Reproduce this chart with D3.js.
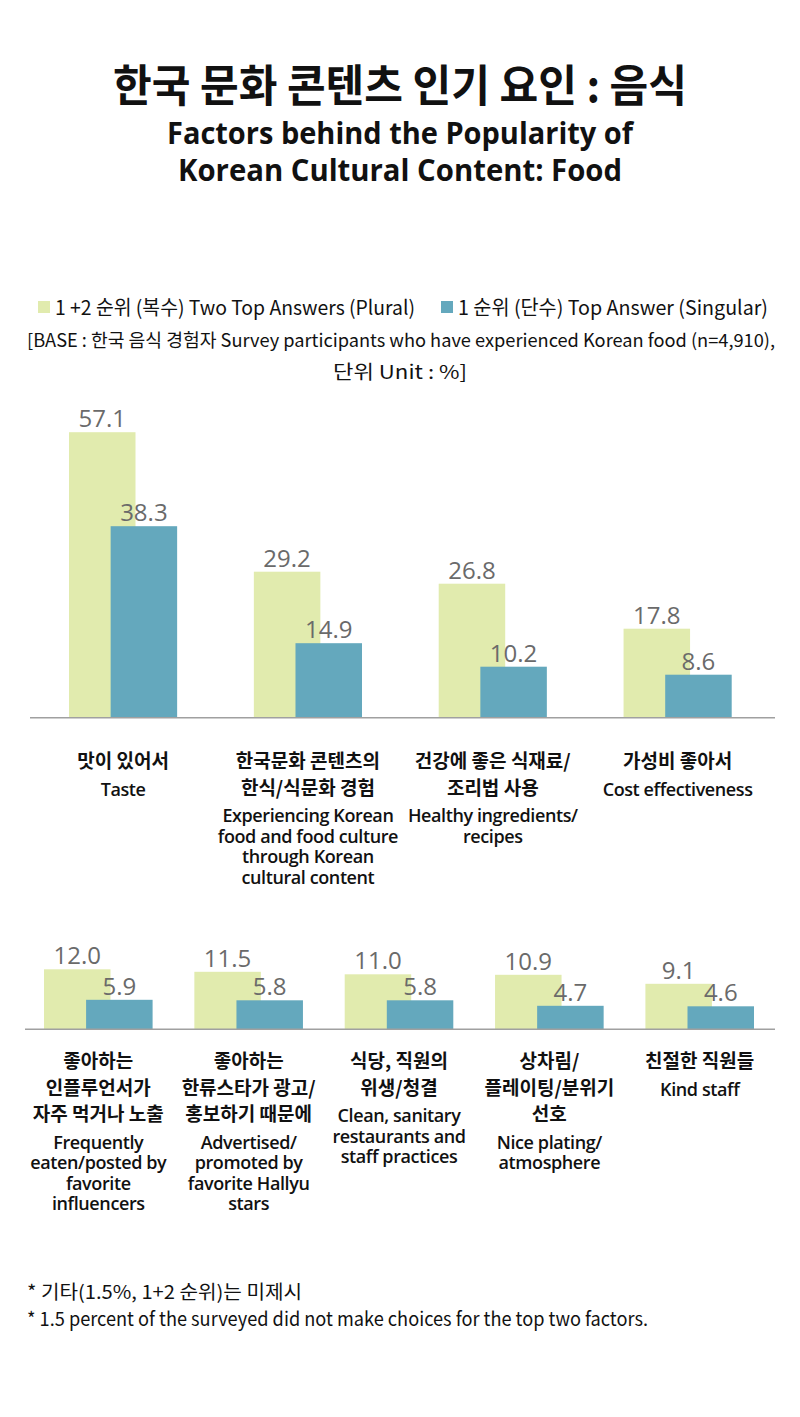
<!DOCTYPE html>
<html><head><meta charset="utf-8">
<script src="https://cdn.jsdelivr.net/npm/d3@7"></script>
<style>
html,body{margin:0;padding:0;background:#fff;}
svg{display:block;}
</style></head>
<body>
<svg id="chart" width="800" height="1417"></svg>
<script>
// ---------- DATA ----------
const seriesNames = ["1 +2 순위 (복수) Two Top Answers (Plural)", "1 순위 (단수) Top Answer (Singular)"];

const topKo = [["맛이 있어서"], ["한국문화 콘텐츠의", "한식/식문화 경험"], ["건강에 좋은 식재료/", "조리법 사용"], ["가성비 좋아서"]];
const topEn = [["Taste"], ["Experiencing Korean", "food and food culture", "through Korean", "cultural content"], ["Healthy ingredients/", "recipes"], ["Cost effectiveness"]];
const topPlural = [57.1, 29.2, 26.8, 17.8];
const topSingular = [38.3, 14.9, 10.2, 8.6];

const botKo = [["좋아하는", "인플루언서가", "자주 먹거나 노출"], ["좋아하는", "한류스타가 광고/", "홍보하기 때문에"], ["식당, 직원의", "위생/청결"], ["상차림/", "플레이팅/분위기", "선호"], ["친절한 직원들"]];
const botEn = [["Frequently", "eaten/posted by", "favorite", "influencers"], ["Advertised/", "promoted by", "favorite Hallyu", "stars"], ["Clean, sanitary", "restaurants and", "staff practices"], ["Nice plating/", "atmosphere"], ["Kind staff"]];
const botPlural = [12.0, 11.5, 11.0, 10.9, 9.1];
const botSingular = [5.9, 5.8, 5.8, 4.7, 4.6];

const titleKo = "한국 문화 콘텐츠 인기 요인 : 음식";
const titleEn = ["Factors behind the Popularity of", "Korean Cultural Content: Food"];
const baseNote = ["[BASE : 한국 음식 경험자 Survey participants who have experienced Korean food (n=4,910),", "단위 Unit : %]"];
const footnotes = ["* 기타(1.5%, 1+2 순위)는 미제시", "* 1.5 percent of the surveyed did not make choices for the top two factors."];

// ---------- STYLE ----------
const colors = ["#e1ebae", "#64a8bd"];
const KO = "'Noto Sans CJK KR', 'Noto Sans', sans-serif";
const EN = "'Open Sans', 'Noto Sans CJK KR', sans-serif";

const svg = d3.select("#chart");

// Title
svg.append("text").attr("x", 400).attr("y", 102).attr("text-anchor", "middle")
  .attr("font-family", KO).attr("font-weight", 700).attr("font-size", 44).attr("fill", "#111")
  .attr("textLength", 574).attr("lengthAdjust", "spacingAndGlyphs").text(titleKo);
const titleW = [466, 444];
titleEn.forEach((t, i) => {
  svg.append("text").attr("x", 400).attr("y", 143.5 + i * 37).attr("text-anchor", "middle")
    .attr("font-family", EN).attr("font-weight", 700).attr("font-size", 30).attr("fill", "#111")
    .attr("textLength", titleW[i]).attr("lengthAdjust", "spacingAndGlyphs").text(t);
});

// Legend
const legX = [38, 441], legW = [360, 310];
seriesNames.forEach((s, i) => {
  svg.append("rect").attr("x", legX[i]).attr("y", 301).attr("width", 12).attr("height", 12).attr("fill", colors[i]);
  svg.append("text").attr("x", legX[i] + 17).attr("y", 314.5)
    .attr("font-family", KO).attr("font-size", 20).attr("fill", "#111")
    .attr("textLength", legW[i]).attr("lengthAdjust", "spacingAndGlyphs").text(s);
});
svg.append("text").attr("x", 401).attr("y", 346.5).attr("text-anchor", "middle")
  .attr("font-family", KO).attr("font-size", 18).attr("fill", "#111")
  .attr("textLength", 748).attr("lengthAdjust", "spacingAndGlyphs").text(baseNote[0]);
svg.append("text").attr("x", 400).attr("y", 378.5).attr("text-anchor", "middle")
  .attr("font-family", KO).attr("font-size", 19).attr("fill", "#111")
  .attr("textLength", 134).attr("lengthAdjust", "spacingAndGlyphs").text(baseNote[1]);

// Footnotes
const fnW = [275, 621];
footnotes.forEach((t, i) => {
  svg.append("text").attr("x", 27).attr("y", 1299 + i * 27)
    .attr("font-family", KO).attr("font-size", 19).attr("fill", "#111")
    .attr("textLength", fnW[i]).attr("lengthAdjust", "spacingAndGlyphs").text(t);
});

// ---------- CHART PANEL ----------
function panel(opts) {
  const {ko, en, plural, singular, xRange, pad, baseY, axisX, koY} = opts;
  const n = plural.length;
  const idx = d3.range(n);
  const x = d3.scaleBand().domain(idx).range(xRange).paddingInner(pad).paddingOuter(0);
  const barW = 66.5;
  const xs = d3.scalePoint().domain([0, 1]).range([0, x.bandwidth() - barW]);
  const y = d3.scaleLinear().domain([0, 10]).range([baseY, baseY - 50]);

  const g = svg.append("g");
  const data = [];
  idx.forEach(i => {
    data.push({i, s: 0, v: plural[i]});
    data.push({i, s: 1, v: singular[i]});
  });

  g.selectAll("rect.bar").data(data).join("rect").attr("class", "bar")
    .attr("x", d => x(d.i) + xs(d.s))
    .attr("y", d => y(d.v))
    .attr("width", barW)
    .attr("height", d => y(0) - y(d.v))
    .attr("fill", d => colors[d.s]);

  g.selectAll("text.val").data(data).join("text").attr("class", "val")
    .attr("x", d => x(d.i) + xs(d.s) + barW / 2)
    .attr("y", d => y(d.v) - 5)
    .attr("text-anchor", "middle")
    .attr("font-family", EN).attr("font-size", 24).attr("fill", "#6a6a6a")
    .text(d => d.v.toFixed(1));

  // baseline
  g.append("line").attr("x1", axisX[0]).attr("x2", axisX[1])
    .attr("y1", y(0)).attr("y2", y(0)).attr("stroke", "#a0a0a0").attr("stroke-width", 1.5);

  // category labels (each block is one text element with tspans)
  idx.forEach(i => {
    const cx = x(i) + x.bandwidth() / 2;
    const tk = g.append("text").attr("text-anchor", "middle")
      .attr("font-family", KO).attr("font-weight", 700).attr("font-size", 19).attr("fill", "#111");
    ko[i].forEach((line, j) => {
      tk.append("tspan").attr("x", cx).attr("y", koY + j * 26.7).text(line);
    });
    const enStart = koY + (ko[i].length - 1) * 26.7 + 27.5;
    const te = g.append("text").attr("text-anchor", "middle")
      .attr("font-family", EN).attr("font-weight", 600).attr("font-size", 18).attr("fill", "#111")
      .attr("letter-spacing", -0.4);
    en[i].forEach((line, j) => {
      te.append("tspan").attr("x", cx).attr("y", enStart + j * 20.5).text(line);
    });
  });
}

panel({ko: topKo, en: topEn, plural: topPlural, singular: topSingular,
  xRange: [69, 731.7], pad: 0.415, baseY: 717.7, axisX: [30, 775], koY: 768});
panel({ko: botKo, en: botEn, plural: botPlural, singular: botSingular,
  xRange: [44, 754], pad: 0.2777, baseY: 1029.3, axisX: [25, 775], koY: 1068});
</script>
</body></html>
